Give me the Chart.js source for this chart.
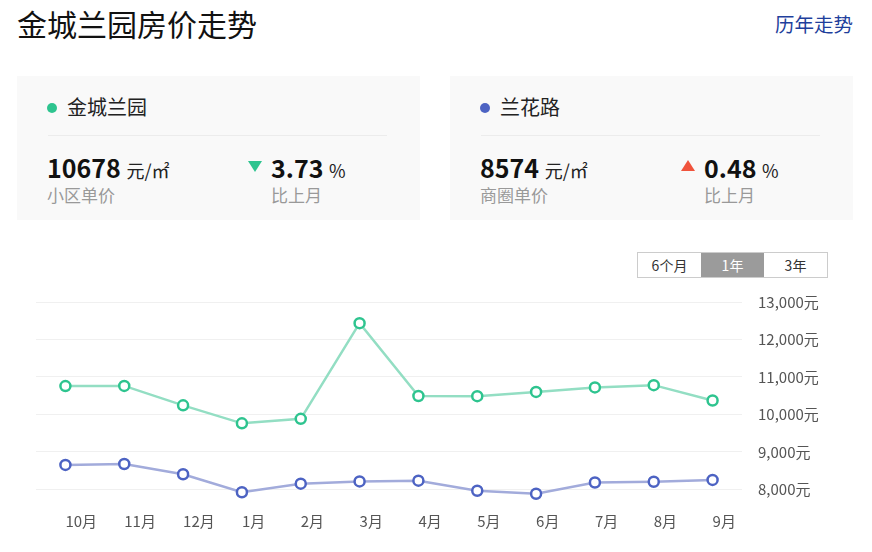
<!DOCTYPE html>
<html>
<head>
<meta charset="utf-8">
<script src="https://cdn.jsdelivr.net/npm/chart.js@4"></script>
<style>
  body { margin: 0; width: 872px; height: 552px; position: relative; background: #fff;
    font-family: "Noto Sans CJK SC", "Noto Sans", sans-serif; color: #222; overflow: hidden; }
  .title { position: absolute; left: 17px; top: 1px; font-size: 30px; color: #111; }
  .more { position: absolute; left: 775px; top: 9px; font-size: 19.5px; color: #1f3f9c; }
  .card { position: absolute; top: 76px; width: 403px; height: 144px; background: #f9f9f9; }
  .card .name { position: absolute; left: 50px; top: 16px; font-size: 20px; color: #222; }
  .card .dot { position: absolute; left: -20px; top: 11px; width: 10px; height: 10px; border-radius: 50%; }
  .card .line { position: absolute; left: 31px; right: 33px; top: 59px; border-top: 1px solid #ececec; }
  .card .big { position: absolute; top: 73px; font-size: 25px; font-weight: bold; color: #111; white-space: nowrap; }
  .card .big span { font-size: 18px; font-weight: normal; color: #222; }
  .card .sub { position: absolute; top: 106px; font-size: 17px; color: #999; }
  .tri { position: absolute; top: 85px; width: 0; height: 0; border-left: 7px solid transparent; border-right: 7px solid transparent; }
  .tabs { position: absolute; left: 637px; top: 252px; height: 26px; display: flex; border: 1px solid #ccc; box-sizing: border-box; }
  .tabs div { width: 63px; line-height: 24px; text-align: center; font-size: 14px; color: #333; }
  .tabs div.on { background: #9b9b9b; color: #fff; }
  #wrap { position: absolute; left: 0; top: 280px; width: 872px; height: 272px; }
</style>
</head>
<body>
<div class="title">金城兰园房价走势</div>
<div class="more">历年走势</div>

<div class="card" style="left:17px">
  <div class="name"><div class="dot" style="background:#2ec48f"></div>金城兰园</div>
  <div class="line"></div>
  <div class="big" style="left:30px">10678 <span>元/㎡</span></div>
  <div class="sub" style="left:30px">小区单价</div>
  <div class="tri" style="left:231px; border-top:11px solid #2ec48f"></div>
  <div class="big" style="left:254px">3.73 <span>%</span></div>
  <div class="sub" style="left:254px">比上月</div>
</div>

<div class="card" style="left:450px">
  <div class="name"><div class="dot" style="background:#4d63c3"></div>兰花路</div>
  <div class="line"></div>
  <div class="big" style="left:30px">8574 <span>元/㎡</span></div>
  <div class="sub" style="left:30px">商圈单价</div>
  <div class="tri" style="left:231px; top:84px; border-bottom:11px solid #f0533c"></div>
  <div class="big" style="left:254px">0.48 <span>%</span></div>
  <div class="sub" style="left:254px">比上月</div>
</div>

<div class="tabs"><div>6个月</div><div class="on">1年</div><div>3年</div></div>

<div id="wrap"><canvas id="myChart"></canvas></div>

<script>
const months = ["10月", "11月", "12月", "1月", "2月", "3月", "4月", "5月", "6月", "7月", "8月", "9月"];
const gardenPrices = [10755, 10760, 10240, 9760, 9880, 12435, 10490, 10485, 10600, 10720, 10780, 10370];
const roadPrices = [8650, 8675, 8400, 7920, 8150, 8210, 8230, 7960, 7880, 8180, 8200, 8250];
const yTicks = [8000, 9000, 10000, 11000, 12000, 13000];

const ctx = document.getElementById("myChart");
new Chart(ctx, {
  type: "line",
  data: {
    labels: months,
    datasets: [
      {
        label: "金城兰园",
        data: gardenPrices,
        borderColor: "#93dec3",
        borderWidth: 2.5,
        pointRadius: 5,
        pointBorderWidth: 2.5,
        pointBorderColor: "#2ec48f",
        pointBackgroundColor: "#fff",
        tension: 0
      },
      {
        label: "兰花路",
        data: roadPrices,
        borderColor: "#a2abdb",
        borderWidth: 2.5,
        pointRadius: 5,
        pointBorderWidth: 2.5,
        pointBorderColor: "#4d63c3",
        pointBackgroundColor: "#fff",
        tension: 0
      }
    ]
  },
  options: {
    responsive: true,
    maintainAspectRatio: false,
    animation: false,
    layout: { padding: { left: 36, top: 22, right: 0, bottom: 0 } },
    plugins: { legend: { display: false }, tooltip: { enabled: false } },
    scales: {
      x: {
        offset: true,
        grid: { display: false },
        border: { display: false },
        ticks: {
          align: "start",
          padding: 4,
          color: "#555",
          font: { family: "Noto Sans CJK SC", size: 15 }
        },
        afterFit: (s) => { s.height = 51.5; s.paddingLeft = 0; s.paddingRight = 0; }
      },
      y: {
        position: "right",
        min: 7700,
        max: 13000,
        grid: { color: "#f0f0f0", drawTicks: false },
        border: { display: false },
        afterBuildTicks: (s) => { s.ticks = yTicks.map((v) => ({ value: v })); },
        afterFit: (s) => { s.width = 130; s.paddingTop = 0; s.paddingBottom = 0; },
        ticks: {
          padding: 16,
          color: "#555",
          font: { family: "Noto Sans CJK SC", size: 15 },
          callback: (v) => v.toLocaleString("en-US") + "元"
        }
      }
    }
  }
});
</script>
</body>
</html>
